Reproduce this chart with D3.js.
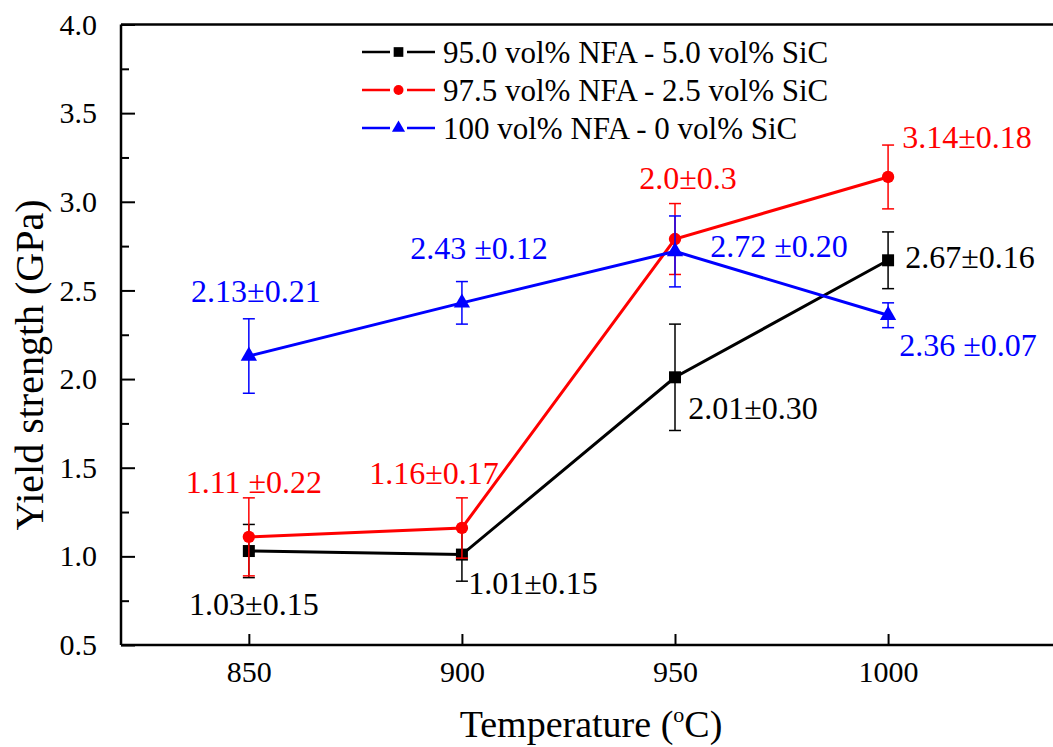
<!DOCTYPE html>
<html>
<head>
<meta charset="utf-8">
<script src="https://cdn.jsdelivr.net/npm/d3@7"></script>
<style>
  body { margin: 0; background: #fff; }
</style>
</head>
<body>
<div id="chart"></div>
<script>
// Yield strength vs temperature, three NFA/SiC compositions
const temperatures = [850, 900, 950, 1000];

const seriesNames = [
    '95.0 vol% NFA - 5.0 vol% SiC',
    '97.5 vol% NFA - 2.5 vol% SiC',
    '100 vol% NFA - 0 vol% SiC'
];
const seriesColors = ['#000000', '#ff0000', '#0000ff'];
const seriesSymbols = ['square', 'circle', 'triangle'];

const sic5Values = [1.03, 1.01, 2.01, 2.67];
const sic5Errors = [0.15, 0.15, 0.30, 0.16];
const sic25Values = [1.11, 1.16, 2.79, 3.14];
const sic25Errors = [0.22, 0.17, 0.20, 0.18];
const sic0Values = [2.13, 2.43, 2.72, 2.36];
const sic0Errors = [0.21, 0.12, 0.20, 0.07];

// value labels written next to points (text as printed in the figure)
const sic5Labels = ['1.03\u00b10.15', '1.01\u00b10.15', '2.01\u00b10.30', '2.67\u00b10.16'];
const sic25Labels = ['1.11 \u00b10.22', '1.16\u00b10.17', '2.0\u00b10.3', '3.14\u00b10.18'];
const sic0Labels = ['2.13\u00b10.21', '2.43 \u00b10.12', '2.72 \u00b10.20', '2.36 \u00b10.07'];

const yTicks = [0.5, 1.0, 1.5, 2.0, 2.5, 3.0, 3.5, 4.0];
const yMinorTicks = [0.75, 1.25, 1.75, 2.25, 2.75, 3.25, 3.75];

const FONT = '"Liberation Serif", "Times New Roman", Times, serif';

const width = 1053;
const height = 747;
const margin = { top: 24.5, right: 0, bottom: 102, left: 121 };

const svg = d3.select('#chart')
    .append('svg')
    .attr('width', width)
    .attr('height', height);

const chartWidth = width - margin.left - margin.right;
const chartHeight = height - margin.top - margin.bottom;

const g = svg.append('g')
    .attr('transform', `translate(${margin.left},${margin.top})`);

const xScale = d3.scaleLinear()
    .domain([820, 1038.7])
    .range([0, chartWidth]);

const yScale = d3.scaleLinear()
    .domain([0.5, 4.0])
    .range([chartHeight, 0]);

// Axes (ticks point inward)
const yAxis = g.append('g')
    .call(d3.axisLeft(yScale)
        .tickValues(yTicks)
        .tickSize(-14)
        .tickPadding(24)
        .tickFormat(d3.format('.1f')));

g.append('g')
    .call(d3.axisLeft(yScale)
        .tickValues(yMinorTicks)
        .tickSize(-8)
        .tickFormat(''))
    .call(a => a.select('.domain').remove());

const xAxis = g.append('g')
    .attr('transform', `translate(0,${chartHeight})`)
    .call(d3.axisBottom(xScale)
        .tickValues(temperatures)
        .tickSize(-11)
        .tickPadding(16)
        .tickFormat(d3.format('d')));

[yAxis, xAxis].forEach(a => {
    a.attr('font-family', null);
    a.selectAll('text')
        .attr('fill', '#000')
        .style('font-size', '30px');
});
yAxis.selectAll('.domain').remove();
xAxis.selectAll('.domain').remove();
g.selectAll('.tick line').attr('stroke', '#000').attr('stroke-width', 2);

// frame lines: left, bottom, top
g.append('line')
    .attr('x1', 0).attr('x2', 0)
    .attr('y1', 0).attr('y2', chartHeight)
    .attr('stroke', '#000').attr('stroke-width', 2.5);
g.append('line')
    .attr('x1', 0).attr('x2', chartWidth)
    .attr('y1', chartHeight).attr('y2', chartHeight)
    .attr('stroke', '#000').attr('stroke-width', 2.5);
g.append('line')
    .attr('x1', 0).attr('x2', chartWidth)
    .attr('y1', 0).attr('y2', 0)
    .attr('stroke', '#000').attr('stroke-width', 2.5);

// Axis titles
svg.append('text')
    .attr('x', 591)
    .attr('y', 737)
    .attr('text-anchor', 'middle')
    .style('font-size', '38px')
    .html('Temperature (<tspan dy="-15" font-size="22px">o</tspan><tspan dy="15">C)</tspan>');

svg.append('text')
    .attr('transform', 'translate(43,365) rotate(-90)')
    .attr('text-anchor', 'middle')
    .style('font-size', '40px')
    .text('Yield strength (GPa)');

// Symbols
const symbolTypes = {
    square: d3.symbolSquare,
    circle: d3.symbolCircle,
    triangle: d3.symbolTriangle
};
const symbolSizes = { square: 144, circle: 120, triangle: 115 };

function symbolPath(kind, scale = 1) {
    return d3.symbol().type(symbolTypes[kind]).size(symbolSizes[kind] * scale)();
}

const series = [
    { values: sic5Values, errors: sic5Errors },
    { values: sic25Values, errors: sic25Errors },
    { values: sic0Values, errors: sic0Errors }
];

const line = d3.line()
    .x(d => xScale(d.t))
    .y(d => yScale(d.v));

series.forEach((s, i) => {
    const color = seriesColors[i];
    const pts = temperatures.map((t, j) => ({ t: t, v: s.values[j], e: s.errors[j] }));
    const sg = g.append('g');

    sg.append('path')
        .datum(pts)
        .attr('d', line)
        .attr('fill', 'none')
        .attr('stroke', color)
        .attr('stroke-width', 3);

    // error bars
    const eb = sg.selectAll('.err')
        .data(pts)
        .enter()
        .append('g')
        .attr('stroke', color)
        .attr('stroke-width', 1.5);
    eb.append('line')
        .attr('x1', d => xScale(d.t)).attr('x2', d => xScale(d.t))
        .attr('y1', d => yScale(d.v - d.e)).attr('y2', d => yScale(d.v + d.e));
    eb.append('line')
        .attr('x1', d => xScale(d.t) - 6).attr('x2', d => xScale(d.t) + 6)
        .attr('y1', d => yScale(d.v + d.e)).attr('y2', d => yScale(d.v + d.e));
    eb.append('line')
        .attr('x1', d => xScale(d.t) - 6).attr('x2', d => xScale(d.t) + 6)
        .attr('y1', d => yScale(d.v - d.e)).attr('y2', d => yScale(d.v - d.e));

    sg.selectAll('.pt')
        .data(pts)
        .enter()
        .append('path')
        .attr('d', symbolPath(seriesSymbols[i]))
        .attr('transform', d => `translate(${xScale(d.t)},${yScale(d.v)})`)
        .attr('fill', color);
});

// Value labels: [series index, point index, x offset, y offset]
const labelOffsets = [
    [0, 0, 5, 53], [0, 1, 71, 28], [0, 2, 78, 31], [0, 3, 82, -3],
    [1, 0, 5, -55], [1, 1, -28, -55], [1, 2, 13, -61], [1, 3, 79, -40],
    [2, 0, 7, -65], [2, 1, 17, -55], [2, 2, 104, -6], [2, 3, 80, 30]
];
const allLabels = [sic5Labels, sic25Labels, sic0Labels];

labelOffsets.forEach(([si, pi, dx, dy]) => {
    const s = series[si];
    g.append('text')
        .attr('x', xScale(temperatures[pi]) + dx)
        .attr('y', yScale(s.values[pi]) + dy)
        .attr('dy', '0.35em')
        .attr('text-anchor', 'middle')
        .attr('fill', seriesColors[si])
        .style('font-size', '32px')
        .text(allLabels[si][pi]);
});

// Legend
const legend = svg.append('g')
    .attr('transform', 'translate(362,52)');

seriesNames.forEach((name, i) => {
    const row = legend.append('g')
        .attr('transform', `translate(0,${i * 38})`);
    row.append('line')
        .attr('x1', 0).attr('x2', 28)
        .attr('stroke', seriesColors[i]).attr('stroke-width', 2.5);
    row.append('line')
        .attr('x1', 45).attr('x2', 73)
        .attr('stroke', seriesColors[i]).attr('stroke-width', 2.5);
    row.append('path')
        .attr('d', symbolPath(seriesSymbols[i], 0.65))
        .attr('transform', 'translate(36.5,0)')
        .attr('fill', seriesColors[i]);
    row.append('text')
        .attr('x', 81)
        .attr('dy', '0.35em')
        .style('font-size', '31px')
        .text(name);
});

svg.selectAll('text').style('font-family', FONT);
</script>
</body>
</html>
